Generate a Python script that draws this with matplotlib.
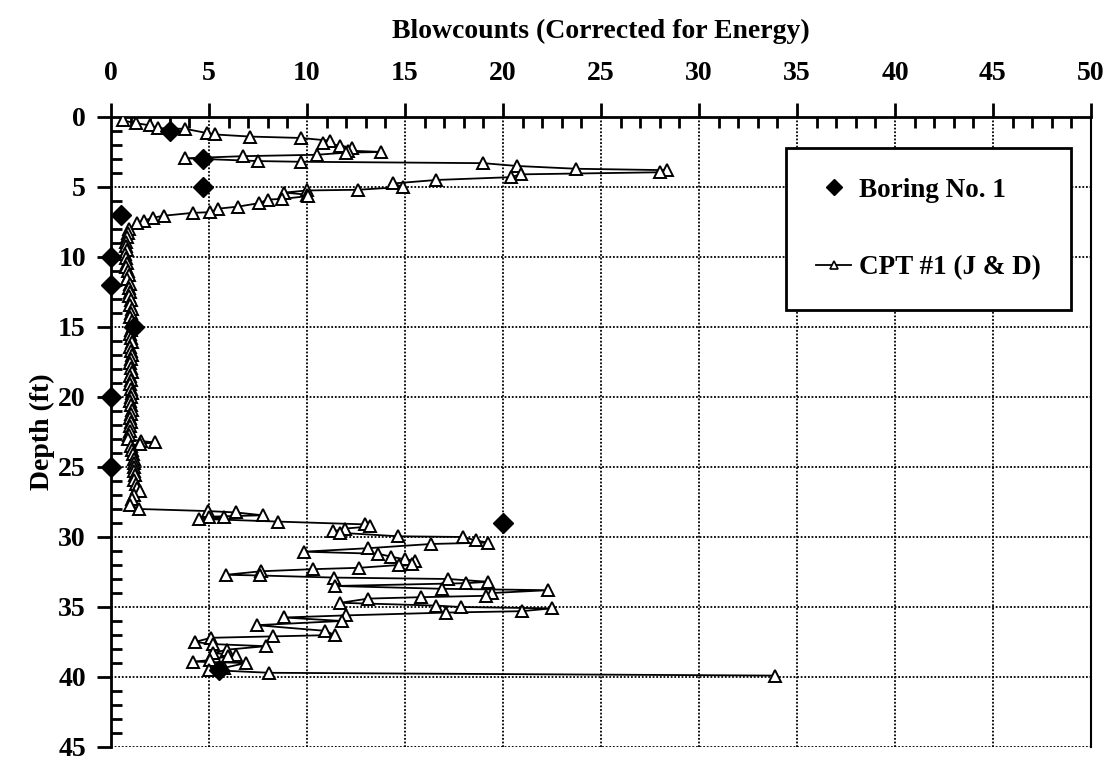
import matplotlib.pyplot as plt
from matplotlib.lines import Line2D
from matplotlib.ticker import MultipleLocator

plt.rcParams['font.family'] = ['Liberation Serif', 'DejaVu Serif']
plt.rcParams['font.weight'] = 'bold'

# Boring No. 1 (SPT blowcounts)
boring_depth = [1.0, 3.0, 5.0, 7.0, 10.0, 12.0, 15.0, 20.0, 25.0, 29.0, 39.5]
boring_n = [3.0, 4.7, 4.7, 0.5, 0.0, 0.0, 1.2, 0.0, 0.0, 20.0, 5.5]

# CPT #1 (J & D) equivalent blowcounts
cpt_depth = [0.25, 0.45, 0.6, 0.8, 0.85, 1.15, 1.25, 1.4, 1.5, 1.7, 1.85, 2.05, 2.2, 2.4,
             2.5, 2.55, 2.7, 2.8, 2.95, 3.15, 3.2, 3.3, 3.5, 3.7, 3.8, 3.95, 4.1, 4.3,
             4.5, 4.75, 5.0, 5.2, 5.25, 5.4, 5.55, 5.65, 5.85, 5.9, 6.15, 6.4, 6.55, 6.8,
             6.85, 7.05, 7.2, 7.4, 7.6, 8.0,
             8.3, 8.6, 8.9, 9.2, 9.5, 9.8, 10.1, 10.4, 10.7, 11.0, 11.3, 11.6, 11.9, 12.2,
             12.5, 12.8, 13.1, 13.4, 13.7, 14.0, 14.3, 14.6, 14.9, 15.2, 15.5, 15.8, 16.1,
             16.4, 16.7, 17.0, 17.3, 17.6, 17.9, 18.2, 18.5, 18.8, 19.1, 19.4, 19.7, 20.0,
             20.3, 20.6, 20.9, 21.2, 21.5, 21.8, 22.1, 22.4, 22.7, 23.0, 23.15, 23.25,
             23.35, 23.5, 23.8, 24.1, 24.4, 24.7, 25.0, 25.3, 25.6, 25.9, 26.2, 26.5,
             26.7, 27.0, 27.3, 27.7, 28.0,
             28.15, 28.25, 28.45, 28.55, 28.6, 28.7, 28.9, 29.1, 29.25, 29.4, 29.6, 29.7,
             29.95, 30.0, 30.25, 30.4, 30.5, 30.8, 31.05, 31.2, 31.4, 31.6, 31.7, 31.9,
             32.0, 32.2, 32.3, 32.45, 32.7, 32.75, 32.9, 33.0, 33.2, 33.3, 33.5, 33.7,
             33.8, 34.0, 34.2, 34.3, 34.4, 34.7, 34.9, 35.0, 35.1, 35.3, 35.4, 35.6,
             35.75, 36.0, 36.3, 36.7, 37.0, 37.1, 37.2, 37.5, 37.65, 37.8, 38.05, 38.3,
             38.4, 38.5, 38.8, 38.9, 39.0, 39.35, 39.5, 39.7, 39.9]
cpt_n = [0.6, 1.3, 2.0, 2.4, 3.8, 4.9, 5.3, 7.1, 9.7, 11.2, 10.8, 11.7, 12.3, 12.1,
         13.8, 12.0, 10.5, 6.75, 3.8, 7.5, 9.7, 19.0, 20.7, 23.75, 28.35, 28.0, 20.9, 20.4,
         16.6, 14.4, 14.9, 12.6, 10.0, 8.85, 10.0, 10.07, 8.75, 8.0, 7.57, 6.5, 5.47, 5.05,
         4.17, 2.72, 2.12, 1.7, 1.31, 0.93,
         0.85, 0.8, 0.78, 0.75, 0.8, 0.72, 0.75, 0.8, 0.78, 0.85, 0.9, 0.82, 0.95, 0.9,
         0.98, 0.92, 1.0, 0.95, 1.05, 1.0, 0.95, 1.05, 1.1, 1.0, 0.95, 1.0, 1.05,
         0.98, 1.0, 1.05, 1.0, 0.95, 1.0, 1.05, 0.98, 1.0, 0.95, 1.0, 1.05, 1.0,
         0.95, 1.0, 1.05, 1.0, 0.95, 1.0, 0.98, 0.95, 0.9, 0.88, 1.55, 2.25,
         1.5, 1.0, 1.05, 1.1, 1.15, 1.2, 1.15, 1.2, 1.25, 1.2, 1.3, 1.35,
         1.48, 1.2, 1.05, 0.97, 1.44,
         4.96, 6.4, 7.74, 5.0, 5.76, 4.5, 8.5, 12.96, 13.2, 11.94, 11.34, 11.68,
         14.66, 17.98, 18.6, 19.25, 16.33, 13.13, 9.85, 13.64, 14.27, 15.0, 15.5, 15.34,
         14.7, 12.67, 10.29, 7.65, 5.87, 7.6, 11.4, 17.2, 19.25, 18.1, 11.43, 16.9,
         22.3, 19.46, 19.15, 15.8, 13.13, 11.7, 16.58, 17.84, 22.48, 20.95, 17.1, 12.0,
         8.85, 11.77, 7.43, 10.9, 11.43, 8.25, 5.1, 4.28, 5.2, 7.9, 5.9, 5.2,
         6.4, 5.98, 5.05, 4.17, 6.89, 5.76, 5.02, 8.07, 33.9]

fig = plt.figure(figsize=(11.12, 7.61), dpi=100)
ax = fig.add_axes([0.0998, 0.0184, 0.8813, 0.8279])

ax.plot(cpt_n, cpt_depth, color='black', lw=1.3, marker='^', markersize=9,
        markerfacecolor='white', markeredgecolor='black', markeredgewidth=1.4, zorder=3)
ax.plot(boring_n, boring_depth, linestyle='none', marker='D', markersize=10,
        color='black', zorder=4, clip_on=False)

ax.set_xlim(0, 50)
ax.set_ylim(45, 0)
ax.xaxis.set_major_locator(MultipleLocator(5))
ax.xaxis.set_minor_locator(MultipleLocator(1))
ax.yaxis.set_major_locator(MultipleLocator(5))
ax.yaxis.set_minor_locator(MultipleLocator(1))
ax.xaxis.tick_top()
ax.xaxis.set_label_position('top')

ax.tick_params(which='major', direction='out', length=10, width=2, labelsize=20)
ax.tick_params(axis='x', which='major', pad=12)
ax.tick_params(axis='y', which='major', pad=8)
ax.tick_params(which='minor', direction='in', length=8, width=2)
ax.tick_params(axis='y', which='both', right=False)
ax.tick_params(axis='x', which='both', bottom=False)

ax.grid(True, which='major', color='black', linestyle=(0, (1, 1)), linewidth=1.3)
ax.spines['bottom'].set_visible(False)
ax.spines['left'].set_linewidth(2)
ax.spines['top'].set_linewidth(2)
ax.spines['right'].set_linewidth(1.5)

ax.set_xlabel('Blowcounts (Corrected for Energy)', fontsize=20, fontweight='bold', labelpad=17)
ax.set_ylabel('Depth (ft)', fontsize=20, fontweight='bold', labelpad=2)

handles = [
    Line2D([], [], linestyle='none', marker='D', markersize=8, color='black'),
    Line2D([], [], color='black', lw=1.3, marker='^', markersize=6,
           markerfacecolor='white', markeredgecolor='black', markeredgewidth=1.2),
]
leg = ax.legend(handles, ['Boring No. 1', 'CPT #1 (J & D)'], loc='upper left',
                bbox_to_anchor=(0.689, 0.951), borderaxespad=0, fontsize=19.5,
                labelspacing=1.95, borderpad=1.1, handlelength=1.3, handletextpad=0.3,
                fancybox=False, framealpha=1, edgecolor='black')
leg.get_frame().set_linewidth(2)
leg.set_zorder(5)

plt.savefig('out.png', dpi=100)
